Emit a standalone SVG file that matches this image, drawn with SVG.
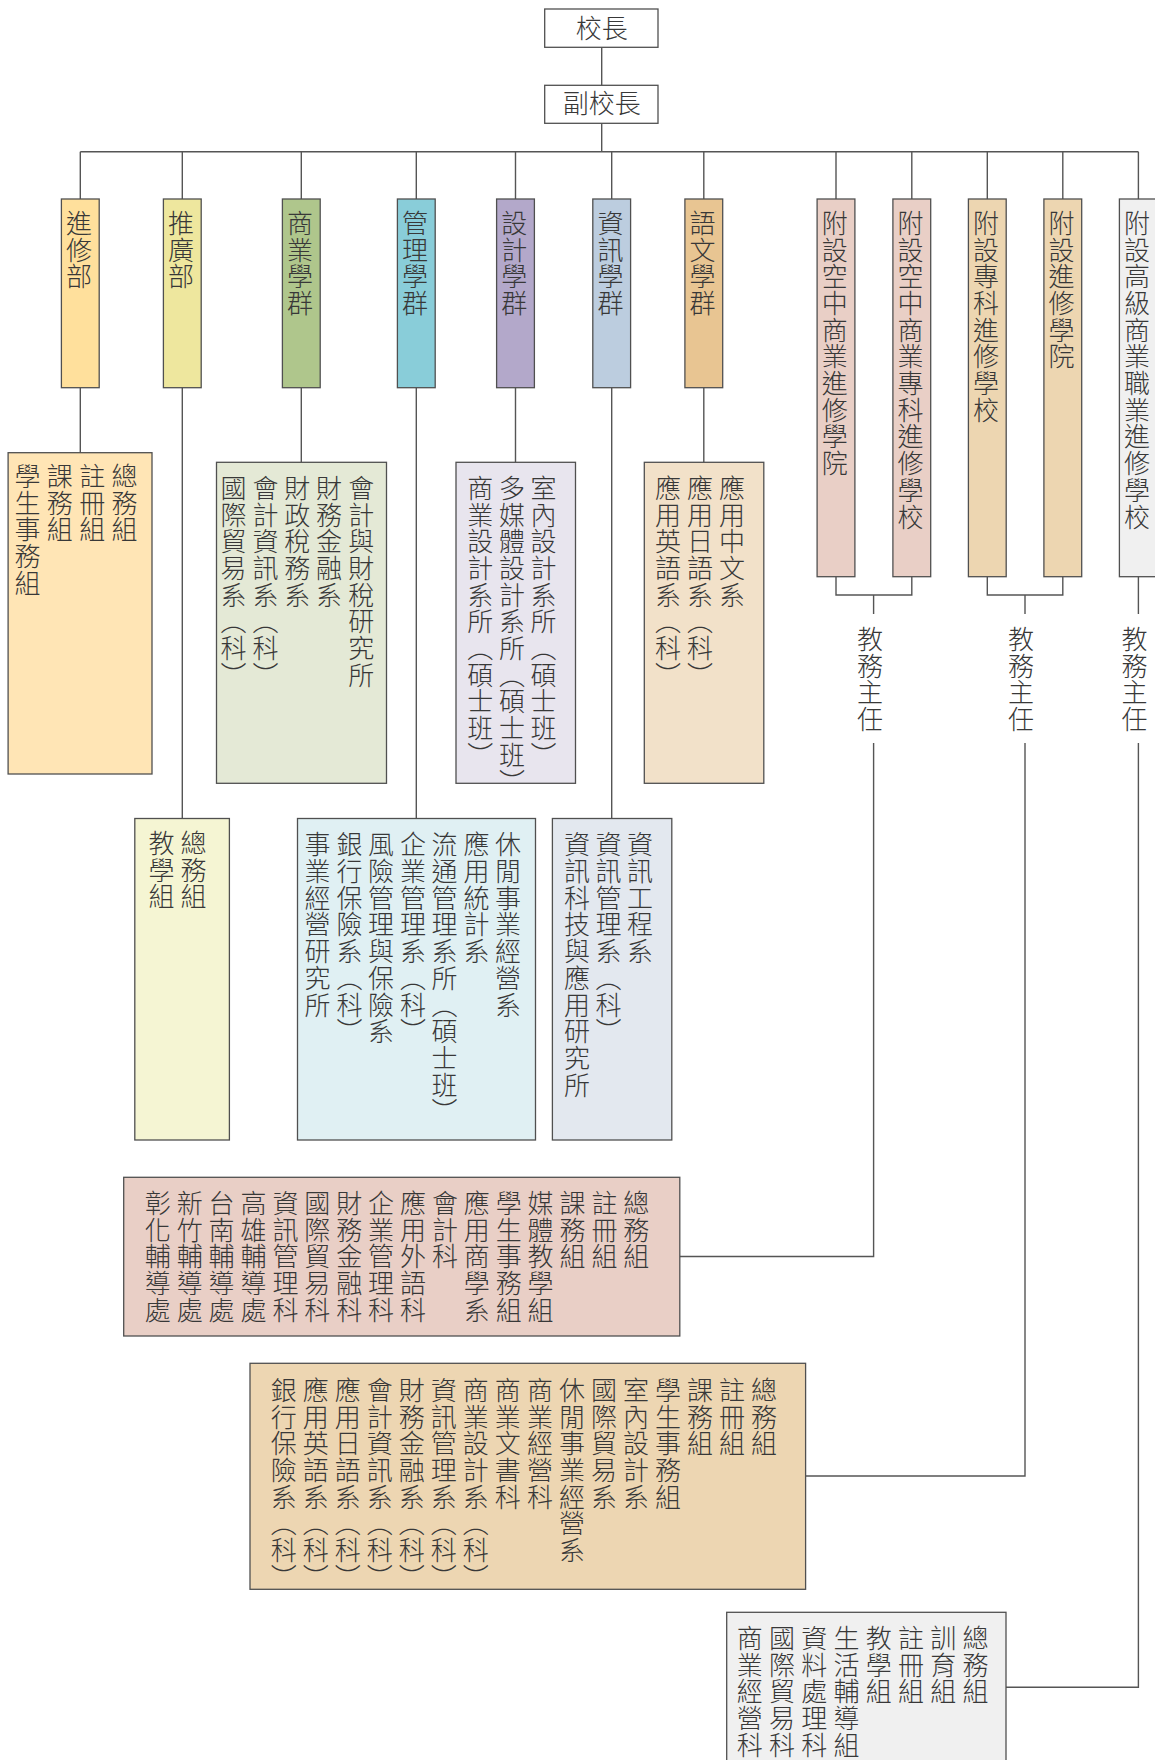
<svg xmlns="http://www.w3.org/2000/svg" width="1155" height="1760" viewBox="0 0 1155 1760">
<style>
 .bx{stroke:#505050;stroke-width:1.3}
 .ln{stroke:#555;stroke-width:1.4;fill:none}
 text{font-family:"Liberation Sans","Noto Sans CJK TC","Noto Sans CJK SC",sans-serif;font-size:26px;font-weight:300;fill:#383838}
 .v{writing-mode:vertical-rl;letter-spacing:0.7px;transform:translate(-2px,0)}
 .h{text-anchor:middle;dominant-baseline:central}
</style>
<rect width="1155" height="1760" fill="#fff"/>
<g id="connectors">
 <path class="ln" d="M601.7 47.3V85.3"/>
 <path class="ln" d="M601.7 123.3V151.7" stroke-width="2.6"/>
 <path class="ln" d="M80.3 151.7H1138.4"/>
 <path class="ln" d="M80.3 151.7V199M182.3 151.7V199M301.3 151.7V199M416.3 151.7V199M515.5 151.7V199M611.7 151.7V199M703.8 151.7V199M836 151.7V199M911.8 151.7V199M987.3 151.7V199M1062.8 151.7V199M1138.4 151.7V199"/>
 <path class="ln" d="M80.3 387.7V452.7M182.3 387.7V818.5M301.3 387.7V462.3M416.3 387.7V818.5M515.5 387.7V462.3M611.7 387.7V818.5M703.8 387.7V462.3"/>
 <path class="ln" d="M836 576.7V595H911.8V576.7M873.6 595V614M873.6 743V1256.5H679.8"/>
 <path class="ln" d="M987.3 576.7V595H1062.8V576.7M1025 595V614M1025 743V1476H805.6"/>
 <path class="ln" d="M1138.4 576.7V614M1138.4 743V1687.3H1006"/>
</g>
<g id="president">
 <rect class="bx" x="544.7" y="9" width="113.3" height="38.3" fill="#fff"/>
 <text class="h" x="601.7" y="28.5">校長</text>
</g>
<g id="vice-president">
 <rect class="bx" x="544.7" y="85.3" width="113.3" height="38" fill="#fff"/>
 <text class="h" x="601.7" y="104">副校長</text>
</g>
<g id="n-jinxiu">
 <rect class="bx" x="61.4" y="199" width="37.8" height="188.7" fill="#FFE09C"/>
 <text class="v" x="78.5" y="210">進修部</text>
</g>
<g id="n-tuiguang">
 <rect class="bx" x="163.4" y="199" width="37.8" height="188.7" fill="#EEE79E"/>
 <text class="v" x="180.5" y="210">推廣部</text>
</g>
<g id="n-business">
 <rect class="bx" x="282.4" y="199" width="37.8" height="188.7" fill="#AFC68C"/>
 <text class="v" x="299.5" y="210">商業學群</text>
</g>
<g id="n-management">
 <rect class="bx" x="397.4" y="199" width="37.8" height="188.7" fill="#89CDD9"/>
 <text class="v" x="414.5" y="210">管理學群</text>
</g>
<g id="n-design">
 <rect class="bx" x="496.6" y="199" width="37.8" height="188.7" fill="#B3A8CA"/>
 <text class="v" x="513.7" y="210">設計學群</text>
</g>
<g id="n-info">
 <rect class="bx" x="592.8" y="199" width="37.8" height="188.7" fill="#BCCDDF"/>
 <text class="v" x="609.9" y="210">資訊學群</text>
</g>
<g id="n-language">
 <rect class="bx" x="684.9" y="199" width="37.8" height="188.7" fill="#E8C592"/>
 <text class="v" x="702" y="210">語文學群</text>
</g>
<g id="n-air-college">
 <rect class="bx" x="817.1" y="199" width="37.8" height="377.7" fill="#E9CFC6"/>
 <text class="v" x="834.2" y="210">附設空中商業進修學院</text>
</g>
<g id="n-air-junior">
 <rect class="bx" x="892.9" y="199" width="37.8" height="377.7" fill="#E9CFC6"/>
 <text class="v" x="910" y="210">附設空中商業專科進修學校</text>
</g>
<g id="n-junior-cont">
 <rect class="bx" x="968.4" y="199" width="37.8" height="377.7" fill="#EDD6B1"/>
 <text class="v" x="985.5" y="210">附設專科進修學校</text>
</g>
<g id="n-cont-college">
 <rect class="bx" x="1043.9" y="199" width="37.8" height="377.7" fill="#EDD6B1"/>
 <text class="v" x="1061" y="210">附設進修學院</text>
</g>
<g id="n-vocational">
 <rect class="bx" x="1119.4" y="199" width="42" height="377.7" fill="#F0F0F0"/>
 <text class="v" x="1136.5" y="210">附設高級商業職業進修學校</text>
</g>
<g id="dean-1">
 <text class="v" x="869.6" y="626">教務主任</text>
</g>
<g id="dean-2">
 <text class="v" x="1020.5" y="626">教務主任</text>
</g>
<g id="dean-3">
 <text class="v" x="1134" y="626">教務主任</text>
</g>
<g id="c-jinxiu">
 <rect class="bx" x="8.1" y="452.7" width="143.9" height="321.3" fill="#FFE5B5"/>
 <text class="v" x="124" y="463">總務組</text>
 <text class="v" x="91.7" y="463">註冊組</text>
 <text class="v" x="59.3" y="463">課務組</text>
 <text class="v" x="27" y="463">學生事務組</text>
</g>
<g id="c-tuiguang">
 <rect class="bx" x="134.8" y="818.5" width="94.6" height="321.5" fill="#F5F5D3"/>
 <text class="v" x="193" y="830">總務組</text>
 <text class="v" x="161" y="830">教學組</text>
</g>
<g id="c-business">
 <rect class="bx" x="216.5" y="462.3" width="170" height="321" fill="#E4E9D6"/>
 <text class="v" x="360.7" y="475">會計與財稅研究所</text>
 <text class="v" x="328.6" y="475">財務金融系</text>
 <text class="v" x="296.8" y="475">財政稅務系</text>
 <text class="v" x="265.1" y="475">會計資訊系（科）</text>
 <text class="v" x="233.1" y="475">國際貿易系（科）</text>
</g>
<g id="c-design">
 <rect class="bx" x="456" y="462.3" width="119.5" height="321" fill="#E8E5EE"/>
 <text class="v" x="543" y="475">室內設計系所（碩士班）</text>
 <text class="v" x="511.4" y="475">多媒體設計系所（碩士班）</text>
 <text class="v" x="479.8" y="475">商業設計系所（碩士班）</text>
</g>
<g id="c-language">
 <rect class="bx" x="644.3" y="462.3" width="119.5" height="321" fill="#F2E1C9"/>
 <text class="v" x="731.5" y="475">應用中文系</text>
 <text class="v" x="699.5" y="475">應用日語系（科）</text>
 <text class="v" x="667.5" y="475">應用英語系（科）</text>
</g>
<g id="c-management">
 <rect class="bx" x="297.5" y="818.5" width="238" height="321.5" fill="#E0F0F3"/>
 <text class="v" x="507.6" y="831.5">休閒事業經營系</text>
 <text class="v" x="475.9" y="831.5">應用統計系</text>
 <text class="v" x="444.1" y="831.5">流通管理系所（碩士班）</text>
 <text class="v" x="412.4" y="831.5">企業管理系（科）</text>
 <text class="v" x="380.6" y="831.5">風險管理與保險系</text>
 <text class="v" x="348.9" y="831.5">銀行保險系（科）</text>
 <text class="v" x="317.1" y="831.5">事業經營研究所</text>
</g>
<g id="c-info">
 <rect class="bx" x="552.4" y="818.5" width="119.4" height="321.5" fill="#E3E8EF"/>
 <text class="v" x="639.6" y="831.5">資訊工程系</text>
 <text class="v" x="608" y="831.5">資訊管理系（科）</text>
 <text class="v" x="576.4" y="831.5">資訊科技與應用研究所</text>
</g>
<g id="c-air">
 <rect class="bx" x="123.7" y="1177.3" width="556.1" height="158.7" fill="#E9CFC6"/>
 <text class="v" x="635.8" y="1190">總務組</text>
 <text class="v" x="603.9" y="1190">註冊組</text>
 <text class="v" x="572" y="1190">課務組</text>
 <text class="v" x="540.1" y="1190">媒體教學組</text>
 <text class="v" x="508.2" y="1190">學生事務組</text>
 <text class="v" x="476.3" y="1190">應用商學系</text>
 <text class="v" x="444.4" y="1190">會計科</text>
 <text class="v" x="412.5" y="1190">應用外語科</text>
 <text class="v" x="380.6" y="1190">企業管理科</text>
 <text class="v" x="348.7" y="1190">財務金融科</text>
 <text class="v" x="316.8" y="1190">國際貿易科</text>
 <text class="v" x="284.9" y="1190">資訊管理科</text>
 <text class="v" x="253" y="1190">高雄輔導處</text>
 <text class="v" x="221.1" y="1190">台南輔導處</text>
 <text class="v" x="189.2" y="1190">新竹輔導處</text>
 <text class="v" x="157.3" y="1190">彰化輔導處</text>
</g>
<g id="c-cont">
 <rect class="bx" x="250" y="1363.3" width="555.6" height="226" fill="#EDD6B2"/>
 <text class="v" x="763.5" y="1377">總務組</text>
 <text class="v" x="731.5" y="1377">註冊組</text>
 <text class="v" x="699.5" y="1377">課務組</text>
 <text class="v" x="667.4" y="1377">學生事務組</text>
 <text class="v" x="635.4" y="1377">室內設計系</text>
 <text class="v" x="603.4" y="1377">國際貿易系</text>
 <text class="v" x="571.4" y="1377">休閒事業經營系</text>
 <text class="v" x="539.4" y="1377">商業經營科</text>
 <text class="v" x="507.3" y="1377">商業文書科</text>
 <text class="v" x="475.3" y="1377">商業設計系（科）</text>
 <text class="v" x="443.3" y="1377">資訊管理系（科）</text>
 <text class="v" x="411.3" y="1377">財務金融系（科）</text>
 <text class="v" x="379.3" y="1377">會計資訊系（科）</text>
 <text class="v" x="347.3" y="1377">應用日語系（科）</text>
 <text class="v" x="315.2" y="1377">應用英語系（科）</text>
 <text class="v" x="283.2" y="1377">銀行保險系（科）</text>
</g>
<g id="c-vocational">
 <rect class="bx" x="726.7" y="1612.3" width="279.3" height="160" fill="#F0F0F0"/>
 <text class="v" x="975" y="1625">總務組</text>
 <text class="v" x="942.8" y="1625">訓育組</text>
 <text class="v" x="910.5" y="1625">註冊組</text>
 <text class="v" x="878.3" y="1625">教學組</text>
 <text class="v" x="846" y="1625">生活輔導組</text>
 <text class="v" x="813.8" y="1625">資料處理科</text>
 <text class="v" x="781.5" y="1625">國際貿易科</text>
 <text class="v" x="749.3" y="1625">商業經營科</text>
</g>
</svg>
